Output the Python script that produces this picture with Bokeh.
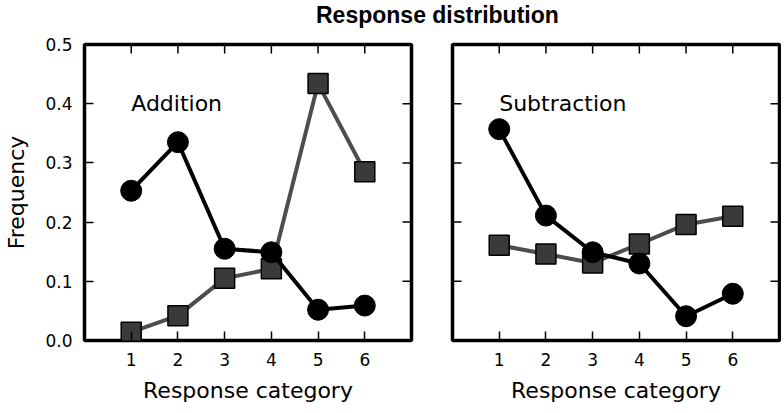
import math
from bokeh.plotting import figure
from bokeh.models import FixedTicker, Div, Range1d
from bokeh.layouts import row, column
from bokeh.core.properties import value
from bokeh.embed import file_html
from bokeh.resources import INLINE

title_text = "Response distribution"
x_label = "Response category"
y_label = "Frequency"
categories = [1, 2, 3, 4, 5, 6]
add_circle = [0.253, 0.335, 0.155, 0.149, 0.052, 0.059]
add_square = [0.014, 0.042, 0.105, 0.121, 0.434, 0.285]
sub_circle = [0.357, 0.211, 0.149, 0.130, 0.041, 0.079]
sub_square = [0.161, 0.146, 0.131, 0.163, 0.196, 0.210]
y_ticks = [0.0, 0.1, 0.2, 0.3, 0.4, 0.5]
y_tick_labels = ["0.0", "0.1", "0.2", "0.3", "0.4", "0.5"]
x_bounds = [0, 7]
panel_names = ["Addition", "Subtraction"]

FONT = "DejaVu Sans"
TICK = 9


def style_axis(ax, ticks):
    ax.ticker = FixedTicker(ticks=ticks)
    ax.axis_line_color = None
    ax.major_tick_in = TICK
    ax.major_tick_out = 0
    ax.major_tick_line_width = 1.5
    ax.major_tick_line_color = "black"
    ax.minor_tick_line_color = None
    ax.major_label_text_font = FONT
    ax.major_label_text_font_size = "17px"
    ax.major_label_text_color = "black"
    ax.major_label_standoff = 12
    ax.axis_label_text_font = FONT
    ax.axis_label_text_font_size = "22px"
    ax.axis_label_text_font_style = "normal"
    ax.axis_label_text_color = "black"
    ax.axis_label_standoff = 9


def make_panel(name, circ, sq, show_yaxis, bl, br):
    p = figure(frame_width=327, frame_height=296, output_backend="svg",
               toolbar_location=None,
               x_range=Range1d(x_bounds[0], x_bounds[1]),
               y_range=Range1d(y_ticks[0], y_ticks[-1]),
               min_border_left=bl, min_border_right=br,
               min_border_top=12, min_border_bottom=62)
    p.grid.visible = False
    p.outline_line_color = "black"
    p.outline_line_width = 3.5
    p.background_fill_color = "white"
    p.border_fill_color = "white"

    style_axis(p.xaxis[0], categories)
    p.xaxis[0].axis_label = x_label
    if show_yaxis:
        style_axis(p.yaxis[0], y_ticks)
        p.yaxis[0].major_label_overrides = {t: l for t, l in zip(y_ticks, y_tick_labels)}
        p.yaxis[0].axis_label = y_label
        p.yaxis[0].axis_label_standoff = 13
    else:
        p.yaxis.visible = False
        # left-side inward ticks (no labels)
        p.scatter([x_bounds[0]] * len(y_ticks[1:-1]), y_ticks[1:-1], marker="dash",
                  size=2 * TICK, line_color="black", line_width=1.5)

    # mirrored inward ticks: top and right
    p.scatter(categories, [y_ticks[-1]] * len(categories), marker="dash", angle=math.pi / 2,
              size=2 * TICK, line_color="black", line_width=1.5)
    p.scatter([x_bounds[1]] * len(y_ticks[1:-1]), y_ticks[1:-1], marker="dash",
              size=2 * TICK, line_color="black", line_width=1.5)

    p.line(categories, sq, line_color="#4d4d4d", line_width=4)
    p.scatter(categories, sq, marker="square", size=20, fill_color="#3a3a3a",
              line_color="black", line_width=1.5)
    p.line(categories, circ, line_color="black", line_width=4)
    p.scatter(categories, circ, marker="circle", size=21, fill_color="black",
              line_color="black")

    p.text(x=[1], y=[0.4], text=[name], text_font=value(FONT), text_font_size="22px",
           text_align="left", text_baseline="alphabetic", text_color="black")
    return p


p1 = make_panel(panel_names[0], add_circle, add_square, True, 84, 18)
p2 = make_panel(panel_names[1], sub_circle, sub_square, False, 23, 2)

title = Div(text=('<div style="margin-left:316px;margin-top:3px;font-family:\'Liberation Sans\';'
                  'font-weight:bold;font-size:23px;line-height:24px;color:black;white-space:nowrap;">'
                  + title_text + '</div>'),
            width=700, height=32, margin=0)

layout = column(title, row(p1, p2))

open("out.html", "w").write(file_html(layout, INLINE))
